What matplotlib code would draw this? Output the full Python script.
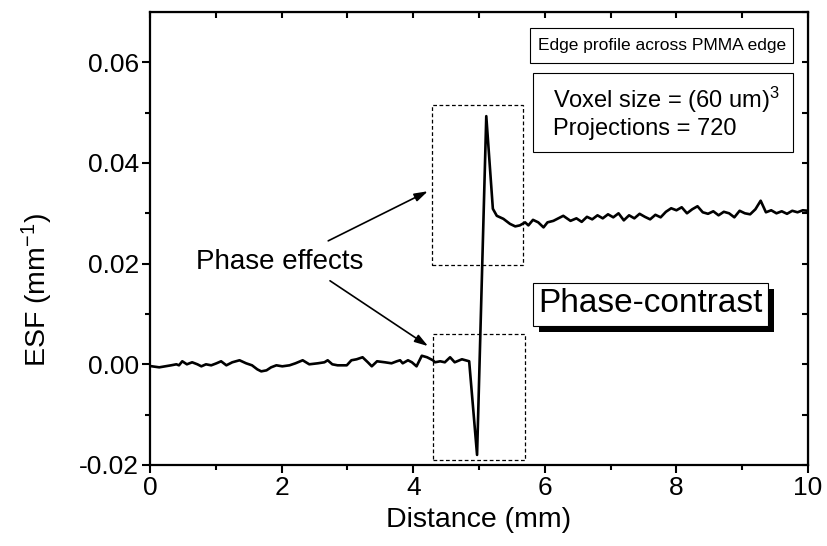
import numpy as np
import matplotlib
matplotlib.use("Agg")
import matplotlib.pyplot as plt
from matplotlib.patches import Rectangle

plt.rcParams['font.family'] = ['Liberation Sans', 'DejaVu Sans']
plt.rcParams['mathtext.fontset'] = 'custom'
plt.rcParams['mathtext.rm'] = 'Liberation Sans'
plt.rcParams['mathtext.it'] = 'Liberation Sans'

# ---- data (Distance in mm, ESF in mm^-1) ----
distance = [0.03, 0.14, 0.32, 0.40, 0.44, 0.49, 0.56, 0.64, 0.72, 0.78, 0.85, 0.93,
            1.01, 1.08, 1.16, 1.25, 1.36, 1.46, 1.55, 1.63, 1.69, 1.77, 1.84, 1.92,
            2.01, 2.12, 2.21, 2.32, 2.42, 2.55, 2.65, 2.70, 2.77, 2.85, 2.99, 3.06,
            3.14, 3.23, 3.31, 3.37, 3.45, 3.57, 3.67, 3.75, 3.80, 3.84, 3.92, 3.98,
            4.05, 4.13, 4.21, 4.30, 4.33, 4.41, 4.48, 4.56, 4.63, 4.74, 4.85,
            4.97, 5.11, 5.21, 5.27, 5.37, 5.47, 5.55, 5.62, 5.70, 5.75, 5.82, 5.90,
            5.98, 6.04, 6.13, 6.28, 6.39, 6.48, 6.56, 6.64, 6.72, 6.80, 6.88, 6.96,
            7.04, 7.12, 7.20, 7.28, 7.36, 7.44, 7.52, 7.60, 7.68, 7.76, 7.84, 7.92,
            8.00, 8.08, 8.16, 8.24, 8.32, 8.40, 8.48, 8.56, 8.64, 8.72, 8.80, 8.88,
            8.96, 9.04, 9.12, 9.20, 9.28, 9.36, 9.44, 9.52, 9.60, 9.68, 9.76, 9.84,
            9.92, 10.0]
esf = [-0.0004, -0.0006, -0.0002, 0.0000, -0.0002, 0.0006, 0.0000, 0.0004, 0.0000, -0.0004, 0.0000, -0.0002,
       0.0002, 0.0006, -0.0002, 0.0004, 0.0008, 0.0002, -0.0002, -0.0010, -0.0014, -0.0012, -0.0006, -0.0002,
       -0.0004, -0.0002, 0.0002, 0.0008, 0.0000, 0.0002, 0.0004, 0.0008, 0.0000, -0.0002, -0.0002, 0.0008,
       0.0010, 0.0014, 0.0004, -0.0004, 0.0006, 0.0004, 0.0002, 0.0006, 0.0008, 0.0002, 0.0008, 0.0004,
       -0.0004, 0.0017, 0.0014, 0.0008, 0.0004, 0.0006, 0.0004, 0.0014, 0.0004, 0.0010, 0.0006,
       -0.0180, 0.0493, 0.0309, 0.0295, 0.0289, 0.0279, 0.0274, 0.0276, 0.0282, 0.0276, 0.0287, 0.0282,
       0.0272, 0.0282, 0.0285, 0.0295, 0.0285, 0.0290, 0.0283, 0.0293, 0.0288, 0.0296, 0.0290, 0.0298,
       0.0292, 0.0300, 0.0286, 0.0296, 0.0290, 0.0299, 0.0293, 0.0288, 0.0297, 0.0292, 0.0303, 0.0310,
       0.0306, 0.0312, 0.0300, 0.0308, 0.0314, 0.0302, 0.0299, 0.0304, 0.0296, 0.0303, 0.0300, 0.0292,
       0.0305, 0.0300, 0.0298, 0.0308, 0.0325, 0.0302, 0.0306, 0.0300, 0.0304, 0.0299, 0.0305, 0.0302,
       0.0306, 0.0305]

x_ticks = [0, 2, 4, 6, 8, 10]
y_ticks = [-0.02, 0.00, 0.02, 0.04, 0.06]
y_tick_labels = ['-0.02', '0.00', '0.02', '0.04', '0.06']

# dashed highlight regions (x0, x1, y0, y1) in data units
upper_region = (4.28, 5.67, 0.0198, 0.0515)
lower_region = (4.30, 5.70, -0.0190, 0.0060)

fig = plt.figure(figsize=(8.28, 5.46), dpi=100)
ax = fig.add_axes([0.1812, 0.1484, 0.7947, 0.8297])

ax.plot(distance, esf, color='black', lw=1.9, zorder=3)

ax.set_xlim(0, 10)
ax.set_ylim(-0.02, 0.07)
ax.set_xticks(x_ticks)
ax.set_xticks(np.arange(1, 10, 2), minor=True)
ax.set_yticks(y_ticks)
ax.set_yticklabels(y_tick_labels)
ax.set_yticks([-0.01, 0.01, 0.03, 0.05], minor=True)
ax.tick_params(which='major', direction='out', length=6, width=1.5, labelsize=19, pad=2)
ax.tick_params(which='minor', direction='out', length=3.5, width=1.5)
for s in ax.spines.values():
    s.set_linewidth(1.6)

top = ax.secondary_xaxis('top')
top.set_xticks(np.arange(0, 11, 1))
top.tick_params(direction='in', length=4, width=1.5, labeltop=False)
top.set_xticklabels([])
right = ax.secondary_yaxis('right')
right.set_yticks(np.arange(-0.02, 0.071, 0.01))
right.tick_params(direction='in', length=4, width=1.5, labelright=False)
right.set_yticklabels([])

ax.set_xlabel('Distance (mm)', fontsize=20.5)
ax.xaxis.set_label_coords(0.5, -0.093)
ax.set_ylabel('ESF (mm$^{-1}$)', fontsize=20.5)
ax.yaxis.set_label_coords(-0.145, 0.385)

for (x0, x1, y0, y1) in (upper_region, lower_region):
    ax.add_patch(Rectangle((x0, y0), x1 - x0, y1 - y0, fill=False, ls=(0, (3, 2)),
                           lw=0.9, ec='black', zorder=2))

# text boxes (axes fraction)
def box(x0, y0, x1, y1, shadow=False):
    if shadow:
        ax.add_patch(Rectangle((x0 + 0.009, y0 - 0.013), x1 - x0, y1 - y0, transform=ax.transAxes,
                               fc='black', ec='black', lw=0, zorder=4))
    ax.add_patch(Rectangle((x0, y0), x1 - x0, y1 - y0, transform=ax.transAxes,
                           fc='white', ec='black', lw=0.8, zorder=5))

box(0.578, 0.887, 0.977, 0.965)
ax.text(0.7775, 0.926, 'Edge profile across PMMA edge', transform=ax.transAxes,
        ha='center', va='center', fontsize=12.5, zorder=6)
box(0.582, 0.691, 0.977, 0.865)
ax.text(0.612, 0.806, 'Voxel size = (60 um)$^3$', transform=ax.transAxes,
        ha='left', va='center', fontsize=17, zorder=6)
ax.text(0.612, 0.742, 'Projections = 720', transform=ax.transAxes,
        ha='left', va='center', fontsize=17, zorder=6)
box(0.582, 0.307, 0.939, 0.402, shadow=True)
ax.text(0.7605, 0.356, 'Phase-contrast', transform=ax.transAxes,
        ha='center', va='center', fontsize=24, zorder=6)

ax.text(0.070, 0.448, 'Phase effects', transform=ax.transAxes,
        ha='left', va='center', fontsize=20, zorder=6)
arrow_kw = dict(arrowstyle='-|>,head_length=0.8,head_width=0.25', color='black', lw=1.2)
ax.annotate('', xy=(0.426, 0.607), xytext=(0.267, 0.492), xycoords='axes fraction',
            textcoords='axes fraction', arrowprops=arrow_kw)
ax.annotate('', xy=(0.426, 0.259), xytext=(0.270, 0.410), xycoords='axes fraction',
            textcoords='axes fraction', arrowprops=arrow_kw)

fig.savefig('out.png', dpi=100)
